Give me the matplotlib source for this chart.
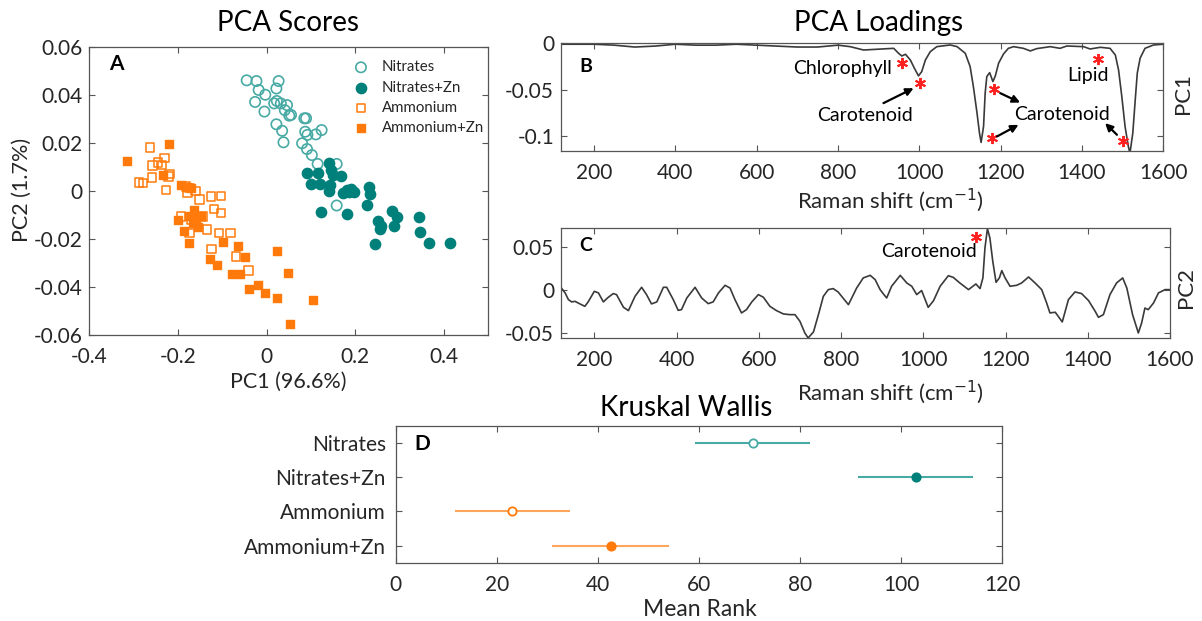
import matplotlib
matplotlib.use('Agg')
import matplotlib.pyplot as plt
from matplotlib.ticker import FuncFormatter

plt.rcParams['font.family'] = ['Lato', 'DejaVu Sans']
plt.rcParams['axes.unicode_minus'] = False

W, H = 1202, 621

# ---- panel A: PCA scores ----
nit_x = [-0.045, -0.023, -0.018, -0.003, -0.026, -0.005, 0.022, 0.027, 0.017, 0.023,
         0.032, 0.046, 0.041, 0.055, 0.051, 0.085, 0.089, 0.022, 0.035, 0.038,
         0.087, 0.092, 0.111, 0.124, 0.080, 0.091, 0.102, 0.115, 0.158, 0.158]
nit_y = [0.046, 0.0457, 0.042, 0.040, 0.037, 0.033, 0.0426, 0.0457, 0.0364, 0.0374,
         0.0364, 0.0357, 0.0336, 0.0316, 0.0313, 0.0302, 0.0302, 0.0277, 0.025, 0.0202,
         0.0246, 0.0233, 0.0235, 0.0253, 0.0198, 0.0174, 0.0149, 0.0112, 0.0112, -0.0061]

nz_x = [0.091, 0.115, 0.141, 0.145, 0.150, 0.167, 0.100, 0.121, 0.141, 0.143,
        0.173, 0.182, 0.186, 0.191, 0.197, 0.231, 0.233, 0.226, 0.122, 0.182,
        0.244, 0.252, 0.257, 0.255, 0.282, 0.295, 0.287, 0.344, 0.345, 0.366, 0.413]
nz_y = [0.0076, 0.0076, 0.0115, 0.0087, 0.0064, 0.0062, 0.0028, 0.0028, 0.0, 0.0025,
        -0.001, 0.0004, -0.0003, 0.0007, -0.0003, 0.0015, -0.0012, -0.0058, -0.0089, -0.0097,
        -0.022, -0.0125, -0.0148, -0.0159, -0.0083, -0.0109, -0.0148, -0.0107, -0.0172, -0.0217, -0.0217]

am_x = [-0.263, -0.245, -0.258, -0.230, -0.236, -0.219, -0.221, -0.259, -0.227, -0.288,
        -0.279, -0.178, -0.174, -0.161, -0.152, -0.182, -0.125, -0.103, -0.119, -0.103,
        -0.144, -0.135, -0.107, -0.082, -0.174, -0.193, -0.124, -0.069, -0.041, -0.170]
am_y = [0.0181, 0.0118, 0.0105, 0.0136, 0.0108, 0.0071, 0.006, 0.0055, 0.0004, 0.0035,
        0.0032, -0.0007, 0.0011, 0.0, -0.0035, 0.0018, -0.0024, -0.0021, -0.0075, -0.0093,
        -0.0107, -0.0162, -0.0176, -0.0176, -0.0176, -0.0107, -0.0242, -0.0273, -0.0331, -0.012]

az_x = [-0.314, -0.221, -0.234, -0.193, -0.179, -0.170, -0.200, -0.187, -0.174, -0.176,
        -0.163, -0.159, -0.148, -0.155, -0.167, -0.099, -0.065, -0.048, -0.127, -0.112,
        -0.079, -0.059, -0.039, -0.020, -0.003, 0.0225, 0.0488, 0.0225, 0.105, 0.053]
az_y = [0.0125, 0.0195, 0.0066, 0.0025, 0.0018, 0.0011, -0.0123, -0.0166, -0.0217, -0.0104,
        -0.0079, -0.0114, -0.0104, -0.0152, -0.0134, -0.0213, -0.0231, -0.0277, -0.0284, -0.031,
        -0.0345, -0.0345, -0.0407, -0.039, -0.0425, -0.0252, -0.0342, -0.0448, -0.0453, -0.0556]

# ---- panel B: PC1 loading ----
pc1_x = [120, 200, 250, 300, 350, 400, 450, 500, 550, 600, 650, 700, 750, 800, 830,
         863, 937, 949, 957, 966, 978, 988, 998, 1006, 1015, 1027, 1043, 1076, 1093,
         1113, 1125, 1133, 1142, 1148, 1152, 1158, 1162, 1166, 1173, 1181, 1187, 1195,
         1207, 1219, 1232, 1256, 1273, 1289, 1322, 1346, 1363, 1404, 1420, 1445, 1469,
         1482, 1490, 1498, 1506, 1514, 1518, 1525, 1531, 1536, 1543, 1555, 1576, 1600]
pc1_y = [-0.001, -0.001, -0.002, -0.004, -0.003, -0.001, -0.002, -0.002, -0.001, -0.002,
         -0.003, -0.004, -0.004, -0.002, -0.0036,
         -0.0072, -0.0054, -0.0107, -0.0136, -0.0118, -0.0179, -0.0268, -0.035, -0.0304,
         -0.0179, -0.009, -0.0036, -0.0018, -0.0036,
         -0.0107, -0.025, -0.0465, -0.075, -0.0964, -0.1064, -0.0893, -0.0535, -0.0357,
         -0.0315, -0.0411, -0.035, -0.0214,
         -0.0115, -0.0054, -0.0036, -0.0054, -0.0082, -0.0057, -0.0036, -0.0054, -0.0029,
         -0.0036, -0.0061, -0.0043, -0.0054,
         -0.0125, -0.0286, -0.0572, -0.0893, -0.1107, -0.118, -0.0964, -0.0607, -0.0321,
         -0.016, -0.0054, -0.0018, -0.001]

# ---- panel C: PC2 loading ----
pc2_x = [121, 129, 137, 145, 153, 165, 177, 185, 200, 210, 222, 232, 246, 254, 271, 283,
         299, 315, 327, 339, 352, 368, 376, 392, 404, 412, 425, 445, 461, 477, 489, 502,
         518, 530, 542, 558, 570, 583, 599, 611, 627, 643, 660, 676, 688, 700, 712, 720,
         733, 745, 757, 769, 781, 793, 818, 838, 854, 871, 883, 895, 903, 911, 923, 944,
         960, 972, 984, 996, 1012, 1025, 1041, 1061, 1073, 1089, 1110, 1128, 1138, 1145,
         1150, 1156, 1162, 1169, 1177, 1185, 1191, 1199, 1211, 1227, 1239, 1256, 1272,
         1288, 1300, 1308, 1321, 1338, 1353, 1369, 1385, 1402, 1418, 1426, 1438, 1454,
         1470, 1485, 1495, 1509, 1523, 1531, 1539, 1547, 1560, 1572, 1588, 1600]
pc2_y = [0.002, -0.003, -0.0108, -0.0135, -0.0128, -0.0158, -0.0186, -0.0135, -0.0012,
         -0.003, -0.0135, -0.0089, -0.0038, -0.005, -0.0198, -0.0236, -0.007, 0.0035,
         -0.005, -0.0158, -0.0135, 0.0035, 0.0035, -0.0108, -0.0233, -0.0225, -0.0089,
         0.0035, -0.0089, -0.0155, -0.0135, -0.003, 0.0058, 0.0027, -0.0108, -0.0263,
         -0.0225, -0.0135, -0.005, -0.008, -0.0186, -0.0236, -0.0275, -0.0283, -0.0283,
         -0.036, -0.0496, -0.0554, -0.0484, -0.0283, -0.007, 0.0008, 0.002, -0.002,
         -0.0167, 0.0027, 0.0144, 0.0174, 0.0124, 0.0008, -0.0042, -0.0089, 0.0047,
         0.0174, 0.0085, 0.0047, -0.005, -0.0003, -0.0198, -0.012, 0.0047, 0.017, 0.015,
         0.0085, 0.0008, 0.0074, 0.002, 0.0144, 0.0493, 0.0717, 0.0609, 0.0337, 0.0093,
         0.0144, 0.0229, 0.0144, 0.0047, 0.0058, 0.0085, 0.0155, 0.0085, 0.0008, -0.0147,
         -0.0263, -0.0255, -0.0368, -0.0108, -0.0019, -0.0038, -0.012, -0.0244, -0.0314,
         -0.0283, -0.005, 0.0085, 0.0144, 0.0027, -0.0283, -0.0496, -0.038, -0.0206,
         -0.0225, -0.0147, -0.003, 0.0008, 0.0008]

# ---- panel D: Kruskal Wallis ----
groups = ['Nitrates', 'Nitrates+Zn', 'Ammonium', 'Ammonium+Zn']
mean_rank = [70.6, 102.9, 23.1, 42.5]
half_ci = [11.4, 11.4, 11.4, 11.5]

teal = '#00807a'
teal_light = '#48aaa4'
orange = '#ff7a0a'
orange_light = '#ffa65c'
dark = '#262626'
line_col = '#3a3a3a'


def px_ax(x0, y0, x1, y1):
    return [x0 / W, 1 - y1 / H, (x1 - x0) / W, (y1 - y0) / H]


def style(ax):
    for s in ax.spines.values():
        s.set_color('#555555')
        s.set_linewidth(0.9)
    ax.tick_params(direction='in', top=True, right=True, length=4, width=0.8,
                   colors='#555555', labelcolor=dark, labelsize=15)
    ax.tick_params(axis='x', pad=8.5)
    ax.tick_params(axis='y', pad=5)


fmt = FuncFormatter(lambda v, p: '%g' % round(v, 4))

fig = plt.figure(figsize=(W / 100, H / 100), dpi=100)


def ftext(x, y, s, **kw):
    fig.text(x / W, 1 - y / H, s, **kw)


# A
axA = fig.add_axes(px_ax(89.3, 46.7, 488.3, 335))
axA.scatter(nit_x, nit_y, s=55, facecolors='none', edgecolors=teal_light, linewidths=1.2, label='Nitrates')
axA.scatter(nz_x, nz_y, s=55, color=teal, label='Nitrates+Zn')
axA.scatter(am_x, am_y, s=38, marker='s', facecolors='none', edgecolors=orange, linewidths=1.1, label='Ammonium')
axA.scatter(az_x, az_y, s=38, marker='s', color=orange, label='Ammonium+Zn')
axA.set_xlim(-0.4, 0.5)
axA.set_ylim(-0.06, 0.06)
axA.set_xticks([-0.4, -0.2, 0, 0.2, 0.4])
axA.set_yticks([-0.06, -0.04, -0.02, 0, 0.02, 0.04, 0.06])
axA.xaxis.set_major_formatter(fmt)
axA.yaxis.set_major_formatter(fmt)
style(axA)
axA.legend(loc='upper left', bbox_to_anchor=(0.662, 0.953), frameon=False, fontsize=10.8,
           handlelength=1.0, handletextpad=0.89, labelspacing=0.42, borderpad=0,
           borderaxespad=0, labelcolor=dark)
axA.text(0.05, 0.94, 'A', transform=axA.transAxes, fontsize=15, fontweight='bold', va='center')

# B
axB = fig.add_axes(px_ax(561, 43.3, 1163.3, 151))
axB.plot(pc1_x, pc1_y, color=line_col, lw=1.2)
axB.set_xlim(119, 1600)
axB.set_ylim(-0.1156, 0)
axB.set_xticks(range(200, 1601, 200))
axB.set_yticks([-0.1, -0.05, 0])
axB.yaxis.set_major_formatter(fmt)
style(axB)
axB.text(0.03, 0.78, 'B', transform=axB.transAxes, fontsize=14, fontweight='bold', va='center')
star = dict(marker=(6, 2, 0), color='#ff2020', ms=8, mew=1.4, ls='none')
axB.plot([957, 1002, 1184, 1178, 1439, 1502], [-0.0214, -0.0422, -0.0493, -0.1017, -0.0171, -0.1053], **star)
axB.text(934, -0.0268, 'Chlorophyll', ha='right', va='center', fontsize=14, color='black')
axB.text(867, -0.0778, 'Carotenoid', ha='center', va='center', fontsize=14, color='black')
axB.text(1352, -0.076, 'Carotenoid', ha='center', va='center', fontsize=14, color='black')
axB.text(1416, -0.035, 'Lipid', ha='center', va='center', fontsize=14, color='black')
arr = dict(arrowstyle='-|>', color='black', lw=1.6, mutation_scale=11, shrinkA=0, shrinkB=0)
for (x0, y0), (x1, y1) in [((912, -0.0642), (986, -0.0482)),
                           ((1199, -0.0535), (1248, -0.0636)),
                           ((1191, -0.100), (1244, -0.0875)),
                           ((1486, -0.0982), (1457, -0.0857))]:
    axB.annotate('', xy=(x1, y1), xytext=(x0, y0), arrowprops=arr)

# C
axC = fig.add_axes(px_ax(561, 228.3, 1170, 338.3))
axC.plot(pc2_x, pc2_y, color=line_col, lw=1.2)
axC.set_xlim(119, 1600)
axC.set_ylim(-0.0558, 0.0721)
axC.set_xticks(range(200, 1601, 200))
axC.set_yticks([-0.05, 0, 0.05])
axC.yaxis.set_major_formatter(fmt)
style(axC)
axC.text(0.03, 0.84, 'C', transform=axC.transAxes, fontsize=14, fontweight='bold', va='center')
axC.plot([1128], [0.0616], **star)
axC.text(1014, 0.0453, 'Carotenoid', ha='center', va='center', fontsize=14, color='black')

# D
axD = fig.add_axes(px_ax(395.7, 425.7, 1002.3, 562.7))
ypos = [1, 2, 3, 4]
face = ['white', teal, 'white', orange]
edge = [teal_light, teal, orange, orange]
lcol = [teal_light, teal_light, orange_light, orange_light]
for y, m, c, fc, ec, lc in zip(ypos, mean_rank, half_ci, face, edge, lcol):
    axD.errorbar([m], [y], xerr=[c], fmt='o', color=lc, ecolor=lc, elinewidth=1.5, capsize=0,
                 mfc=fc, mec=ec, ms=6, mew=1.3)
axD.set_xlim(0, 120)
axD.set_ylim(4.5, 0.5)
axD.set_yticks(ypos)
axD.set_yticklabels(groups)
axD.set_xticks(range(0, 121, 20))
style(axD)
axD.tick_params(axis='y', pad=7)
axD.text(0.03, 0.87, 'D', transform=axD.transAxes, fontsize=15, fontweight='bold', va='center')

# titles and labels
ftext(288, 23, 'PCA Scores', ha='center', va='center', fontsize=20)
ftext(879, 23, 'PCA Loadings', ha='center', va='center', fontsize=20)
ftext(686, 408, 'Kruskal Wallis', ha='center', va='center', fontsize=20)
ftext(288, 382, 'PC1 (96.6%)', ha='center', va='center', fontsize=15.5, color=dark)
ftext(22, 190, 'PC2 (1.7%)', ha='center', va='center', fontsize=15.5, color=dark, rotation=90)
ftext(890, 200, 'Raman shift (cm$^{-1}$)', ha='center', va='center', fontsize=16, color=dark)
ftext(890, 392, 'Raman shift (cm$^{-1}$)', ha='center', va='center', fontsize=16, color=dark)
ftext(700, 610, 'Mean Rank', ha='center', va='center', fontsize=16.5, color=dark)
ftext(1183, 93, 'PC1', ha='center', va='center', fontsize=16, color=dark, rotation=90)
ftext(1186, 287, 'PC2', ha='center', va='center', fontsize=16, color=dark, rotation=90)

fig.savefig('out.png', dpi=100)
